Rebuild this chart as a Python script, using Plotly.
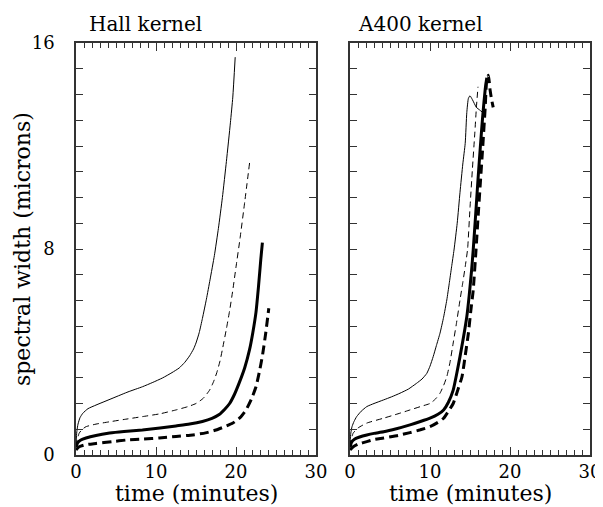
import plotly.graph_objects as go
from plotly.subplots import make_subplots

# ---- data (time in minutes, spectral width in microns) ----
hall_thin_t = [0, 0.1, 0.25, 0.5, 0.85, 1.5, 2.5, 3.75, 5, 6.5, 8.3, 9.6, 10.8, 12, 12.9, 13.6, 14.2, 14.7, 15, 15.4, 15.8, 16.3, 16.75, 17.3, 17.8, 18.3, 18.8, 19.3, 19.6, 19.9]
hall_thin_w = [0.45, 0.9, 1.2, 1.45, 1.62, 1.8, 1.94, 2.1, 2.26, 2.45, 2.65, 2.82, 2.99, 3.2, 3.38, 3.6, 3.85, 4.12, 4.35, 4.75, 5.3, 6.05, 6.8, 7.75, 8.8, 10.0, 11.4, 12.9, 13.9, 15.45]

hall_thind_t = [0, 0.15, 0.4, 0.8, 1.25, 2.5, 4.2, 6, 8.3, 10.5, 12.5, 14, 15, 15.9, 16.7, 17.2, 17.6, 18.0, 18.3, 18.8, 19.2, 19.6, 20.0, 20.5, 21.1, 21.7]
hall_thind_w = [0.35, 0.6, 0.85, 1.0, 1.1, 1.2, 1.29, 1.38, 1.49, 1.6, 1.75, 1.88, 2.0, 2.2, 2.52, 2.85, 3.2, 3.65, 4.1, 4.9, 5.6, 6.4, 7.3, 8.4, 9.85, 11.35]

hall_thick_t = [0, 0.2, 0.6, 1.25, 2.5, 4.2, 6, 8.3, 10.5, 12.5, 14.2, 15.8, 17, 17.9, 18.6, 19.2, 19.8, 20.4, 21.1, 21.7, 22.1, 22.5, 22.8, 23.1, 23.3]
hall_thick_w = [0.3, 0.47, 0.58, 0.66, 0.76, 0.85, 0.91, 0.97, 1.05, 1.13, 1.2, 1.3, 1.42, 1.57, 1.78, 2.0, 2.35, 2.8, 3.4, 4.1, 4.75, 5.55, 6.5, 7.6, 8.25]

hall_thickd_t = [0, 0.4, 1.2, 2.5, 4.5, 6.25, 8.5, 10.4, 12.5, 14.6, 16.2, 17.5, 18.6, 19.6, 20.5, 21.25, 21.9, 22.5, 22.9, 23.3, 23.7, 24.1]
hall_thickd_w = [0.2, 0.32, 0.4, 0.45, 0.52, 0.58, 0.62, 0.66, 0.72, 0.78, 0.86, 0.97, 1.1, 1.24, 1.45, 1.75, 2.15, 2.65, 3.2, 3.85, 4.7, 5.7]

a400_thin_t = [0, 0.1, 0.25, 0.5, 0.83, 1.4, 2.1, 3, 4.2, 5.2, 6.25, 7.3, 8.3, 9, 9.6, 10, 10.4, 10.8, 11.25, 11.7, 12.1, 12.4, 12.7, 13.0, 13.4, 13.75, 14.1, 14.4, 14.6, 14.8, 15.0, 15.3, 15.8, 16.2, 16.6]
a400_thin_w = [0.45, 0.85, 1.1, 1.3, 1.49, 1.7, 1.88, 2.0, 2.14, 2.26, 2.4, 2.56, 2.78, 2.95, 3.17, 3.45, 3.82, 4.25, 4.73, 5.35, 6.02, 6.65, 7.31, 7.96, 9.0, 10.2, 11.3, 12.1, 13.3, 13.85, 13.95, 13.8, 13.5, 13.4, 13.3]

a400_thind_t = [0, 0.15, 0.4, 1, 2.1, 4.2, 6, 7.5, 9, 10, 10.7, 11.25, 11.7, 12.1, 12.5, 12.9, 13.3, 13.75, 14.1, 14.4, 14.7, 15.0, 15.3, 15.6, 15.8, 16.0]
a400_thind_w = [0.35, 0.6, 0.85, 1.05, 1.24, 1.43, 1.6, 1.75, 1.9, 2.0, 2.18, 2.4, 2.7, 3.04, 3.6, 4.35, 5.1, 6.02, 6.7, 7.31, 8.0, 9.6, 11.1, 12.5, 13.5, 14.3]

a400_thick_t = [0, 0.2, 0.6, 1.2, 2.1, 3, 4.2, 5.8, 7.5, 8.8, 10, 11, 11.7, 12.3, 12.9, 13.3, 13.75, 14.2, 14.6, 14.9, 15.2, 15.4, 15.7, 16.0, 16.3, 16.6, 16.9, 17.1]
a400_thick_w = [0.3, 0.5, 0.62, 0.7, 0.78, 0.84, 0.9, 1.02, 1.17, 1.3, 1.43, 1.58, 1.75, 2.05, 2.52, 3.1, 3.82, 4.6, 5.37, 6.2, 7.18, 7.96, 9.3, 10.7, 12.0, 13.2, 14.2, 14.65]

a400_thickd_t = [0, 0.4, 1, 2.1, 3, 4.2, 6, 7.5, 8.8, 10, 11, 11.7, 12.3, 12.9, 13.5, 14, 14.4, 14.8, 15.1, 15.4, 15.75, 16.0, 16.3, 16.6, 16.9, 17.1, 17.3, 17.5, 17.7, 17.9]
a400_thickd_w = [0.2, 0.32, 0.42, 0.52, 0.6, 0.66, 0.76, 0.87, 0.98, 1.1, 1.27, 1.43, 1.7, 2.0, 2.55, 3.04, 3.85, 4.73, 5.6, 6.4, 7.96, 9.2, 10.6, 12.0, 13.5, 14.6, 14.75, 14.2, 13.8, 13.5]

panel_titles = ["Hall kernel", "A400 kernel"]
x_ticks = [0, 10, 20, 30]
y_ticks = [0, 8, 16]

# page is shown with the browser's default 8px body margin; the figure
# fills the window from that offset to its right and bottom edges
OFF = 8
W, H = 603 - OFF, 507 - OFF
FONT = "DejaVu Serif"
AXC = "#333333"


def px(x):
    return (x - OFF) / W


def py(y):
    return 1 - (y - OFF) / H


fig = make_subplots(rows=1, cols=2)

styles = [
    dict(width=1, dash="solid"),
    dict(width=1, dash="6px,4px"),
    dict(width=3, dash="solid"),
    dict(width=3, dash="9px,5px"),
]
panels = [
    [(hall_thin_t, hall_thin_w), (hall_thind_t, hall_thind_w), (hall_thick_t, hall_thick_w), (hall_thickd_t, hall_thickd_w)],
    [(a400_thin_t, a400_thin_w), (a400_thind_t, a400_thind_w), (a400_thick_t, a400_thick_w), (a400_thickd_t, a400_thickd_w)],
]
for c, series in enumerate(panels, start=1):
    for (t, w), st in zip(series, styles):
        fig.add_trace(go.Scatter(x=t, y=w, mode="lines",
                                 line=dict(color="black", width=st["width"], dash=st["dash"], shape="spline", smoothing=0.5),
                                 showlegend=False, hoverinfo="skip"), row=1, col=c)

x_domains = [[px(76), px(316)], [px(350), px(590)]]
y_domain = [py(455), py(43)]

for i, xd in enumerate(x_domains, start=1):
    xa = "xaxis" if i == 1 else "xaxis2"
    ya = "yaxis" if i == 1 else "yaxis2"
    fig.layout[xa].update(domain=xd, range=[0, 30], tickvals=x_ticks, ticks="inside", ticklen=8,
                          tickcolor=AXC, tickwidth=1, showline=True, linecolor=AXC, linewidth=1.5,
                          mirror="allticks", showgrid=False, zeroline=False, automargin=False,
                          minor=dict(dtick=1, ticks="inside", ticklen=5, tickcolor=AXC, tickwidth=1, showgrid=False),
                          tickfont=dict(family=FONT, size=18, color="black"), ticklabelstandoff=0)
    fig.layout[ya].update(domain=y_domain, range=[0, 16], tickvals=y_ticks, ticks="inside", ticklen=7,
                          tickcolor=AXC, tickwidth=1, showline=True, linecolor=AXC, linewidth=1.5,
                          mirror="allticks", showgrid=False, zeroline=False, automargin=False,
                          minor=dict(dtick=1, ticks="inside", ticklen=7, tickcolor=AXC, tickwidth=1, showgrid=False),
                          showticklabels=(i == 1),
                          tickfont=dict(family=FONT, size=18, color="black"), ticklabelstandoff=16)

annotations = [
    dict(text=panel_titles[0], x=px(145), y=py(24), size=20),
    dict(text=panel_titles[1], x=px(420), y=py(24), size=20),
    dict(text="time (minutes)", x=px(196), y=py(493), size=22),
    dict(text="time (minutes)", x=px(470), y=py(493), size=22),
    dict(text="spectral width (microns)", x=px(23), y=py(249), size=22, textangle=-90),
]
for a in annotations:
    size = a.pop("size")
    fig.add_annotation(xref="paper", yref="paper", showarrow=False, xanchor="center", yanchor="middle",
                       font=dict(family=FONT, size=size, color="black"), **a)

fig.update_layout(width=W, height=H, margin=dict(l=0, r=0, t=0, b=0),
                  paper_bgcolor="white", plot_bgcolor="white")

fig.write_html("out.html")
